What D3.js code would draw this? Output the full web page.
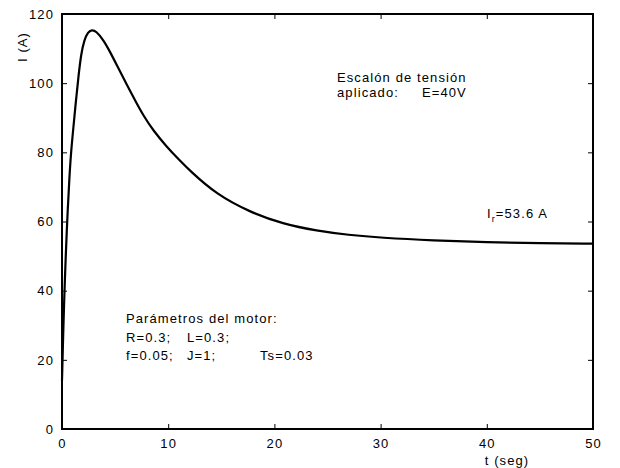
<!DOCTYPE html>
<html>
<head>
<meta charset="utf-8">
<script src="https://cdn.jsdelivr.net/npm/d3@7"></script>
<style>
  body { margin: 0; background: #fff; }
  svg text { font-family: "Liberation Sans", Arial, sans-serif; font-size: 13px; letter-spacing: 1.1px; fill: #000; }
</style>
</head>
<body>
<div id="chart"></div>
<script>
// respuesta de corriente al escalon de tension
var tiempo = [0, 0.1, 0.2, 0.35, 0.5, 0.7, 0.85, 1.05, 1.3, 1.55, 1.8, 2.1, 2.45, 2.8, 3.2, 3.9, 4.5,
              5.2, 6.0, 6.8, 7.7, 8.6, 9.8, 11.1, 12.0, 14.5, 17.7, 20.8, 24, 27, 30, 35, 40, 45, 50];
var corriente = [14, 26, 37, 50, 61, 73, 80, 86.5, 94.5, 102, 108.5, 112.5, 114.8, 115.4, 115.1, 112.5, 109.2,
                 105.0, 100.2, 95.5, 90.4, 86.3, 81.8, 77.6, 74.8, 67.9, 62.7, 59.3, 57.3, 56.1, 55.3, 54.5, 54.0, 53.7, 53.6];
var xTicks = [0, 10, 20, 30, 40, 50];
var yTicks = [0, 20, 40, 60, 80, 100, 120];

var margin = {top: 14, right: 27, bottom: 39, left: 62},
    width = 620 - margin.left - margin.right,
    height = 468 - margin.top - margin.bottom;

var svg = d3.select("#chart").append("svg")
    .attr("width", 620)
    .attr("height", 468);

var g = svg.append("g")
    .attr("transform", "translate(" + margin.left + "," + margin.top + ")");

var x = d3.scaleLinear().domain([0, 50]).range([0, width]);
var y = d3.scaleLinear().domain([0, 120]).range([height, 0]);

// ejes (ticks hacia adentro, caja completa)
var tickLen = 5;
g.append("g")
    .attr("transform", "translate(0," + height + ")")
    .call(d3.axisBottom(x).tickValues(xTicks).tickSizeInner(-tickLen).tickSizeOuter(0).tickPadding(10));
g.append("g")
    .call(d3.axisLeft(y).tickValues(yTicks).tickSizeInner(-tickLen).tickSizeOuter(0).tickPadding(8));
g.append("g")
    .call(d3.axisTop(x).tickValues(xTicks).tickSizeInner(-tickLen).tickSizeOuter(0).tickFormat(""));
g.append("g")
    .attr("transform", "translate(" + width + ",0)")
    .call(d3.axisRight(y).tickValues(yTicks).tickSizeInner(-tickLen).tickSizeOuter(0).tickFormat(""));

g.selectAll(".domain").remove();
g.selectAll(".tick line").attr("stroke", "#000").attr("stroke-width", 1);
g.selectAll(".tick text").attr("font-size", null).attr("font-family", null).attr("fill", "#000");

g.append("rect")
    .attr("x", 0).attr("y", 0)
    .attr("width", width).attr("height", height)
    .attr("fill", "none")
    .attr("stroke", "#000")
    .attr("stroke-width", 2);

// curva (suavizada, los puntos se leyeron a mano)
var line = d3.line()
    .x(function (d, i) { return x(tiempo[i]); })
    .y(function (d) { return y(d); })
    .curve(d3.curveBasis);

g.append("path")
    .datum(corriente)
    .attr("d", line)
    .attr("fill", "none")
    .attr("stroke", "#000")
    .attr("stroke-width", 2.2);

// etiquetas de ejes
svg.append("text")
    .attr("transform", "translate(27,47) rotate(-90)")
    .attr("text-anchor", "middle")
    .text("I (A)");
svg.append("text")
    .attr("x", 507).attr("y", 465)
    .attr("text-anchor", "middle")
    .text("t (seg)");

// anotaciones
var ann = svg.append("g");
ann.append("text").attr("x", 337).attr("y", 82).text("Escalón de tensión");
ann.append("text").attr("x", 337).attr("y", 97).text("aplicado:");
ann.append("text").attr("x", 422).attr("y", 97).text("E=40V");

var ir = ann.append("text").attr("x", 487).attr("y", 218);
ir.append("tspan").text("I");
ir.append("tspan").attr("dy", 4).attr("font-size", "9px").text("r");
ir.append("tspan").attr("dy", -4).text("=53.6 A");

ann.append("text").attr("x", 126).attr("y", 323).text("Parámetros del motor:");
ann.append("text").attr("x", 126).attr("y", 342).text("R=0.3;");
ann.append("text").attr("x", 187).attr("y", 342).text("L=0.3;");
ann.append("text").attr("x", 126).attr("y", 360).text("f=0.05;");
ann.append("text").attr("x", 187).attr("y", 360).text("J=1;");
ann.append("text").attr("x", 260).attr("y", 360).text("Ts=0.03");
</script>
</body>
</html>
